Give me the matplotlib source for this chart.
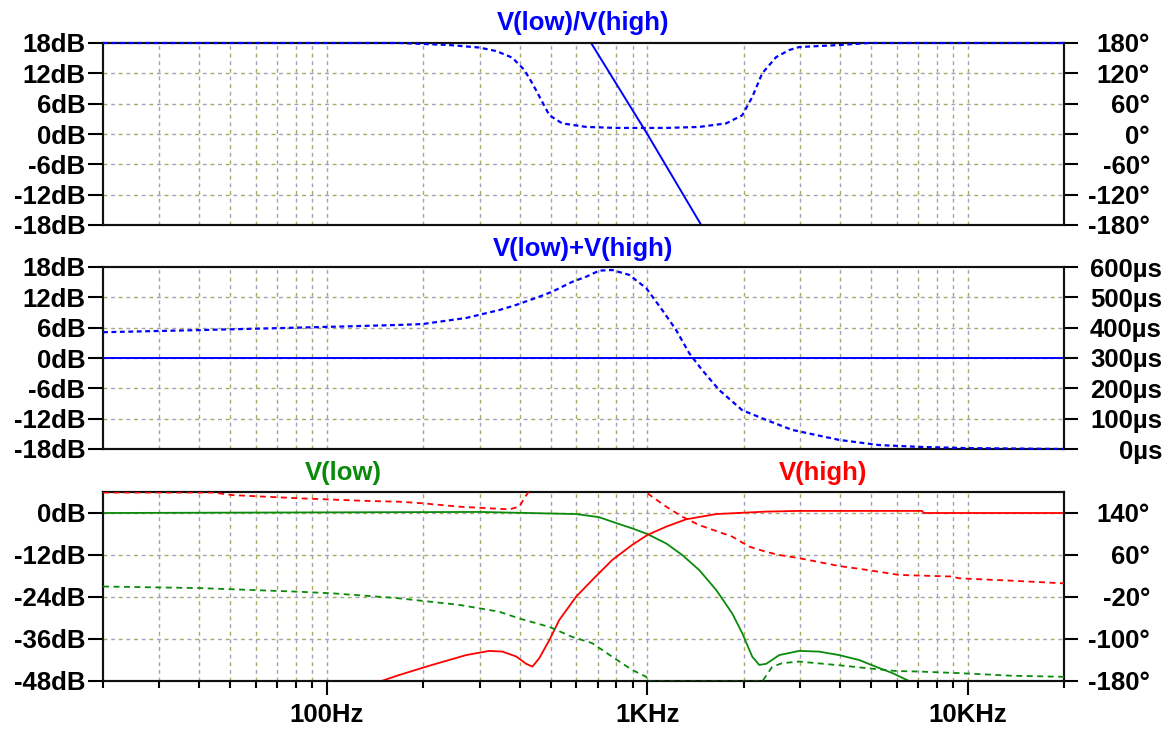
import matplotlib
matplotlib.use("Agg")
import matplotlib.pyplot as plt
from matplotlib.ticker import FixedLocator, NullFormatter, NullLocator

plt.rcParams['font.family'] = ['Liberation Sans', 'DejaVu Sans']
plt.rcParams['font.weight'] = 'bold'

# ---------------- data ----------------
# Panel 1: V(low)/V(high)
ratio_mag_f = [640, 668, 1000, 1474, 1520]
ratio_mag_db = [20, 18, 0, -18, -20]
ratio_ph_f = [20, 100, 168, 241, 299, 338, 379, 413, 438, 467, 495, 543, 645, 800,
              1146, 1453, 1763, 1979, 2127, 2285, 2525, 2773, 2980, 3970, 4929, 20000]
ratio_ph_deg = [180, 180, 180, 176, 171, 164, 151, 127, 100, 67, 37, 21, 14, 12,
                12, 14, 21, 37, 73, 120, 152, 166, 172, 176, 180, 180]

# Panel 2: V(low)+V(high)
sum_mag_f = [20, 20000]
sum_mag_db = [0, 0]
sum_gd_f = [20, 40, 104, 168, 199, 272, 345, 390, 460, 506, 583, 645, 708, 778, 879,
            993, 1114, 1231, 1352, 1485, 1679, 1979, 2349, 2833, 3970, 5293, 7060,
            9890, 20000]
sum_gd_us = [385, 392, 403, 409, 412, 432, 458, 475, 502, 519, 551, 568, 588, 590, 574,
             530, 458, 392, 316, 260, 194, 128, 96, 63, 30, 13, 7, 3, 0]

# Panel 3: V(low) and V(high)
low_mag_f = [20, 300, 600, 708, 778, 898, 1000, 1146, 1286, 1453, 1642, 1842, 1979,
             2126, 2236, 2351, 2582, 2981, 3441, 3973, 4586, 5295, 5813, 6570]
low_mag_db = [0, 0.3, -0.3, -1.2, -2.5, -4.4, -6, -8.7, -12, -16.3, -22, -28.7, -34.3,
              -41, -43.4, -43.1, -40.6, -39.4, -39.6, -40.6, -42, -44.3, -45.7, -48]
low_ph_f = [20, 40, 82, 104, 165, 259, 345, 399, 495, 583, 674, 778, 898, 993, 1000,
            2285, 2455, 2638, 2981, 3973, 4928, 5983, 7059, 9409, 13770, 20000]
low_ph_deg = [0, -3, -10, -13, -22, -35, -48, -61, -77, -96, -108, -134, -159, -172, -181,
              -181, -153, -146, -143, -150, -156, -161, -162, -165, -170, -172]

high_mag_f = [148, 168, 213, 272, 321, 353, 390, 419, 438, 460, 495, 531, 600, 674, 778,
              898, 1000, 1146, 1323, 1642, 2351, 2981, 7211, 7300, 20000]
high_mag_db = [-48, -46.3, -43.4, -40.6, -39.4, -39.6, -41, -43.1, -43.9, -41.5, -36.3,
               -30.6, -23.9, -19.1, -13.4, -9.1, -6.3, -3.9, -1.8, -0.3, 0.4, 0.6, 0.6, 0, 0]
high_ph_f = [20, 44, 51, 82, 133, 168, 199, 259, 371, 399, 413, 428, 979, 1036, 1146,
             1286, 1453, 1842, 2081, 2351, 2582, 2981, 3973, 4928, 6113, 8947, 9409,
             13770, 20000]
high_ph_deg = [179, 179, 174, 168, 163, 161.5, 158.5, 152, 147, 152, 168, 182, 182, 171,
               152, 133, 117, 95, 76, 66, 60, 54, 39, 31, 22, 19, 15.6, 11, 6]

titles = ["V(low)/V(high)", "V(low)+V(high)"]
x_major = [100, 1000, 10000]
x_major_labels = ["100Hz", "1KHz", "10KHz"]
db_ticks_12 = [-18, -12, -6, 0, 6, 12, 18]
db_ticks_3 = [-48, -36, -24, -12, 0]
deg_ticks_1 = [-180, -120, -60, 0, 60, 120, 180]
us_ticks = [0, 100, 200, 300, 400, 500, 600]
deg_ticks_3 = [-180, -100, -20, 60, 140]

# ---------------- style ----------------
W, H = 1168, 729
DPI = 100
BLUE = '#0000ff'
GREEN = '#0a8a0a'
RED = '#ff0000'
OLIVE = '#a9a961'
GREY = '#a2a2bc'
FS = 18.5

fig = plt.figure(figsize=(W / DPI, H / DPI), dpi=DPI)

def px_box(top, bottom, left=103, right=1064):
    return [left / W, 1 - bottom / H, (right - left) / W, (bottom - top) / H]

minor_pos = [m * 10 ** e for e in (1, 2, 3, 4) for m in range(2, 10)]
minor_pos = [v for v in minor_pos if 20 <= v <= 20000]
grid_x = [v for v in minor_pos if 20 < v < 20000] + x_major

def draw_grid(ax, ys):
    for x in grid_x:
        ax.axvline(x, color=OLIVE, lw=1.0, ls=(0, (2.8, 8.2)), zorder=0.5)
        ax.axvline(x, color=GREY, lw=1.0, ls=(5.5, (2.8, 8.2)), zorder=0.5)
    for y in ys:
        ax.axhline(y, color=OLIVE, lw=1.0, ls=(0, (2.8, 8.2)), zorder=0.5)
        ax.axhline(y, color=GREY, lw=1.0, ls=(5.5, (2.8, 8.2)), zorder=0.5)

def style_axes(ax, tw, right_pad):
    for a in (ax, tw):
        for s in a.spines.values():
            s.set_linewidth(1.5)
            s.set_color('#111111')
    ax.tick_params(axis='y', which='major', direction='out', length=10.8, width=1.5,
                   pad=2, labelsize=FS, labelcolor='black')
    tw.tick_params(axis='y', which='major', direction='out', length=10, width=1.5,
                   pad=right_pad, labelsize=FS, labelcolor='black')
    for lab in tw.get_yticklabels():
        lab.set_horizontalalignment('right')
        lab.set_fontweight('bold')
    for lab in ax.get_yticklabels():
        lab.set_fontweight('bold')

boxes = [px_box(43, 225), px_box(267, 449), px_box(492, 681)]
axes = []
for i, b in enumerate(boxes):
    ax = fig.add_axes(b)
    ax.set_xscale('log')
    ax.set_xlim(20, 20000)
    axes.append(ax)

dash_blue = (0, (2.2, 1.6))
dash_rg = (0, (3.3, 2.5))

# Panel 1
ax1 = axes[0]
ax1.set_ylim(-18, 18)
ax1.set_yticks(db_ticks_12)
ax1.set_yticklabels([f"{v}dB" for v in db_ticks_12])
draw_grid(ax1, [v for v in db_ticks_12 if -18 < v < 18])
ax1.xaxis.set_major_locator(NullLocator())
ax1.xaxis.set_minor_locator(NullLocator())
tw1 = ax1.twinx()
tw1.set_ylim(-180, 180)
tw1.set_yticks(deg_ticks_1)
tw1.set_yticklabels([f"{v}°" for v in deg_ticks_1])
ax1.plot(ratio_mag_f, ratio_mag_db, color=BLUE, lw=1.4, zorder=3)
tw1.plot(ratio_ph_f, ratio_ph_deg, color=BLUE, lw=1.6, ls=dash_blue, zorder=3,
         clip_on=False)
style_axes(ax1, tw1, 52)

# Panel 2
ax2 = axes[1]
ax2.set_ylim(-18, 18)
ax2.set_yticks(db_ticks_12)
ax2.set_yticklabels([f"{v}dB" for v in db_ticks_12])
draw_grid(ax2, [v for v in db_ticks_12 if -18 < v < 18])
ax2.xaxis.set_major_locator(NullLocator())
ax2.xaxis.set_minor_locator(NullLocator())
tw2 = ax2.twinx()
tw2.set_ylim(0, 600)
tw2.set_yticks(us_ticks)
tw2.set_yticklabels([f"{v}µs" for v in us_ticks])
ax2.plot(sum_mag_f, sum_mag_db, color=BLUE, lw=1.4, zorder=3)
tw2.plot(sum_gd_f, sum_gd_us, color=BLUE, lw=1.6, ls=dash_blue, zorder=3,
         clip_on=False)
style_axes(ax2, tw2, 60.5)

# Panel 3
ax3 = axes[2]
ax3.set_ylim(-48, 6)
ax3.set_yticks(db_ticks_3)
ax3.set_yticklabels([f"{v}dB" for v in db_ticks_3])
draw_grid(ax3, [v for v in db_ticks_3 if v > -48])
ax3.xaxis.set_major_locator(FixedLocator(x_major))
ax3.xaxis.set_minor_locator(FixedLocator(minor_pos))
ax3.xaxis.set_minor_formatter(NullFormatter())
ax3.set_xticklabels(x_major_labels)
tw3 = ax3.twinx()
tw3.set_ylim(-180, 180)
tw3.set_yticks(deg_ticks_3)
tw3.set_yticklabels([f"{v}°" for v in deg_ticks_3])
ax3.plot(low_mag_f, low_mag_db, color=GREEN, lw=1.3, zorder=3)
ax3.plot(high_mag_f, high_mag_db, color=RED, lw=1.3, zorder=3)
tw3.plot(low_ph_f, low_ph_deg, color=GREEN, lw=1.3, ls=dash_rg, zorder=3)
tw3.plot(high_ph_f, high_ph_deg, color=RED, lw=1.3, ls=dash_rg, zorder=3)
ax3.tick_params(axis='x', which='major', direction='out', length=10, width=1.5,
                pad=5.5, labelsize=FS)
ax3.tick_params(axis='x', which='minor', direction='out', length=5, width=1.5)
for lab in ax3.get_xticklabels():
    lab.set_fontweight('bold')
style_axes(ax3, tw3, 52)

# Titles
fig.text(583 / W, 1 - 23 / H, titles[0], color=BLUE, fontsize=FS, fontweight='bold',
         ha='center', va='center')
fig.text(583 / W, 1 - 249 / H, titles[1], color=BLUE, fontsize=FS, fontweight='bold',
         ha='center', va='center')
fig.text(343 / W, 1 - 473 / H, "V(low)", color=GREEN, fontsize=FS, fontweight='bold',
         ha='center', va='center')
fig.text(823 / W, 1 - 473 / H, "V(high)", color=RED, fontsize=FS, fontweight='bold',
         ha='center', va='center')

fig.savefig("out.png", dpi=DPI, facecolor='white')
